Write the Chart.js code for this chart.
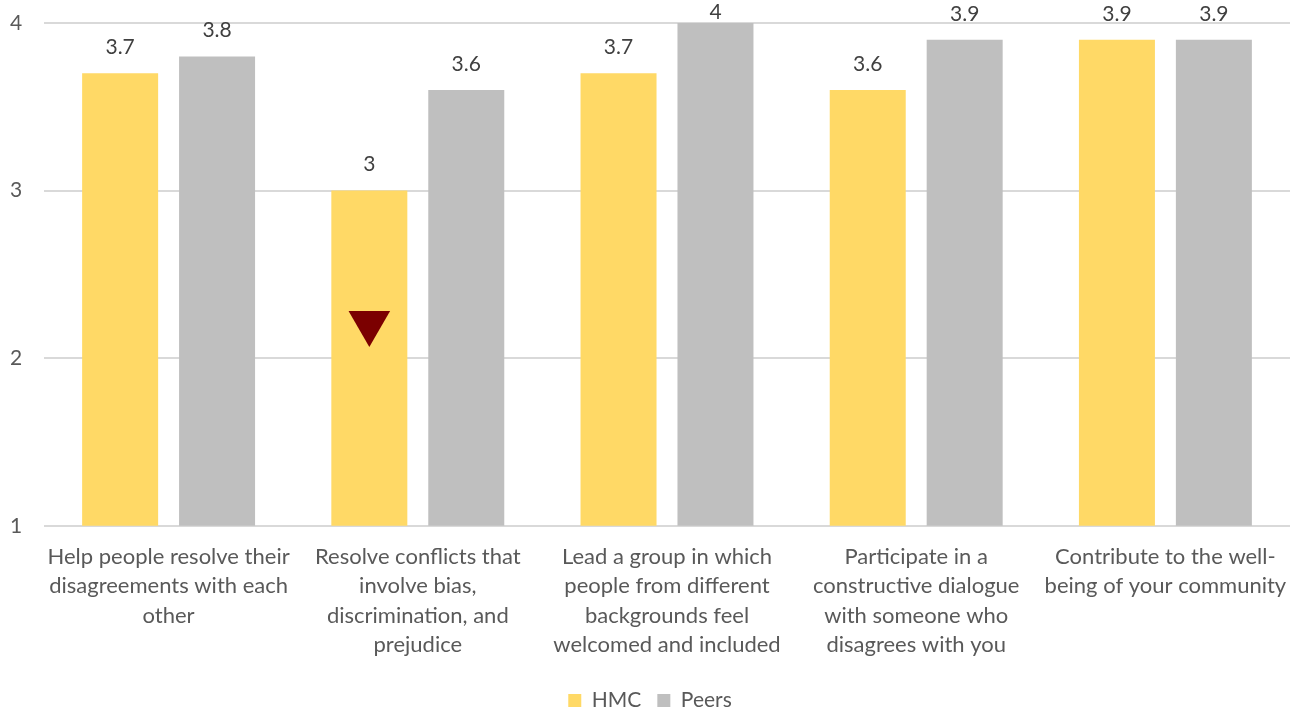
<!DOCTYPE html>
<html>
<head>
<meta charset="utf-8">
<script src="https://cdn.jsdelivr.net/npm/chart.js@4"></script>
<style>
  html, body { margin: 0; padding: 0; background: #fff; }
  #wrap { width: 1301px; height: 710px; }
</style>
</head>
<body>
<div id="wrap"><canvas id="chart"></canvas></div>
<script>
const categories = [
  ['Help people resolve their', 'disagreements with each', 'other'],
  ['Resolve conflicts that', 'involve bias,', 'discrimination, and', 'prejudice'],
  ['Lead a group in which', 'people from different', 'backgrounds feel', 'welcomed and included'],
  ['Participate in a', 'constructive dialogue', 'with someone who', 'disagrees with you'],
  ['Contribute to the well-', 'being of your community'],
];
const hmcValues = [3.7, 3.0, 3.7, 3.6, 3.9];
const peerValues = [3.8, 3.6, 4.0, 3.9, 3.9];
const yTicks = [1, 2, 3, 4];
// significance marker: drawn inside the HMC bar of the second category
const markers = [{ dataset: 0, index: 1, value: 2.21 }];

const FONT = "'Lato', 'Open Sans', sans-serif";
const TEXT = '#595959';

const valueLabels = {
  id: 'valueLabels',
  afterDatasetsDraw(chart) {
    const { ctx } = chart;
    ctx.save();
    ctx.font = `21px ${FONT}`;
    ctx.fillStyle = '#404040';
    ctx.textAlign = 'center';
    ctx.textBaseline = 'middle';
    chart.data.datasets.forEach((ds, i) => {
      chart.getDatasetMeta(i).data.forEach((bar, j) => {
        // labels that would leave the canvas are pulled down to stay visible
        ctx.fillText(String(ds.data[j]), bar.x, Math.max(12, bar.y - 26));
      });
    });
    ctx.restore();
  },
};

const markerPlugin = {
  id: 'markerPlugin',
  afterDatasetsDraw(chart) {
    const { ctx } = chart;
    const y = chart.scales.y;
    ctx.save();
    ctx.fillStyle = '#7B0000';
    markers.forEach((m) => {
      const bar = chart.getDatasetMeta(m.dataset).data[m.index];
      const cy = y.getPixelForValue(m.value);
      const r = 24;
      ctx.beginPath();
      ctx.moveTo(bar.x, cy + r);
      ctx.lineTo(bar.x - r * Math.sqrt(3) / 2, cy - r / 2);
      ctx.lineTo(bar.x + r * Math.sqrt(3) / 2, cy - r / 2);
      ctx.closePath();
      ctx.fill();
    });
    ctx.restore();
  },
};

new Chart(document.getElementById('chart'), {
  type: 'bar',
  data: {
    labels: categories,
    datasets: [
      { label: 'HMC', data: hmcValues, backgroundColor: '#FFD966' },
      { label: 'Peers', data: peerValues, backgroundColor: '#BFBFBF' },
    ],
  },
  options: {
    responsive: true,
    maintainAspectRatio: false,
    animation: false,
    categoryPercentage: 0.778,
    barPercentage: 0.784,
    layout: { padding: { top: 23, right: 11, left: 10, bottom: -11 } },
    plugins: {
      legend: {
        position: 'bottom',
        labels: {
          color: TEXT,
          font: { family: FONT, size: 21 },
          boxWidth: 13,
          boxHeight: 13,
          padding: 16,
        },
      },
      tooltip: { enabled: false },
    },
    scales: {
      x: {
        afterFit: (scale) => { scale.height += 6; },
        grid: { display: false },
        border: { display: false },
        ticks: {
          color: TEXT,
          font: { family: FONT, size: 22, lineHeight: 1.32 },
          maxRotation: 0,
          autoSkip: false,
          padding: 9,
        },
      },
      y: {
        min: 1,
        max: 4,
        afterBuildTicks: (scale) => { scale.ticks = yTicks.map((v) => ({ value: v })); },
        afterFit: (scale) => { scale.width = 34; },
        grid: { color: '#D9D9D9', lineWidth: 2, drawTicks: false },
        border: { display: false },
        ticks: {
          color: TEXT,
          font: { family: FONT, size: 21, lineHeight: 1 },
          padding: 0,
          crossAlign: 'far',
        },
      },
    },
  },
  plugins: [valueLabels, markerPlugin],
});
</script>
</body>
</html>
